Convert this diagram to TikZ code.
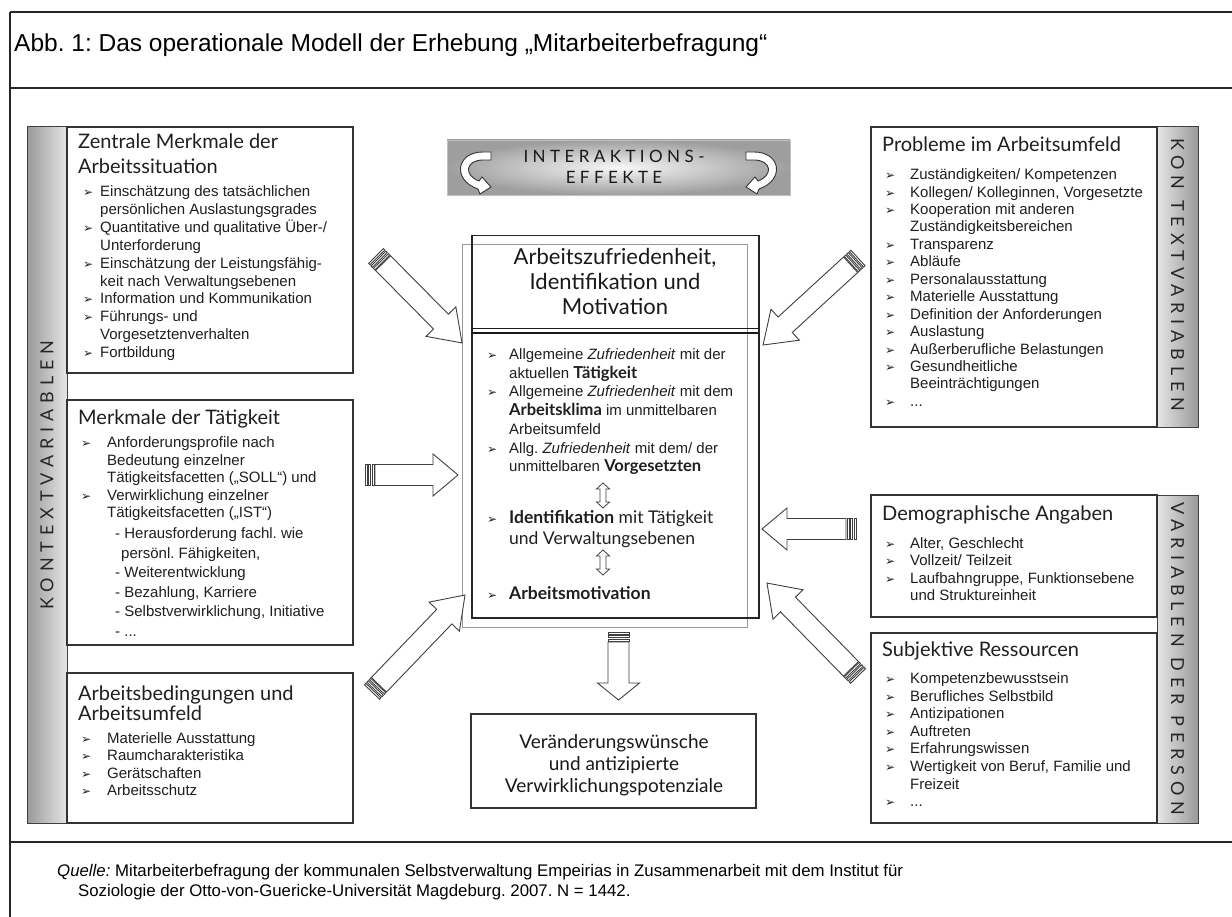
\documentclass[tikz,border=0pt]{standalone}
\usepackage{fontspec}
\setmainfont{Liberation Sans}
\newfontfamily\hf{Lato}
\newfontfamily\hfsp[LetterSpace=33]{Lato}
\newfontfamily\hfban[LetterSpace=26]{Lato}
\newfontfamily\dv{DejaVu Sans}
\frenchspacing
\newcommand\bul{{\dv\fontsize{12}{12}\selectfont ➢}}
\newcommand\bi[1]{\makebox[#1pt][l]{\bul}}
\newcommand\ci[1]{\hspace*{#1pt}}
\newcommand\cbold[1]{{\hf\bfseries\fontsize{16.5}{16.5}\selectfont #1}}
% block arrow: tail x, tail y, rotation, length, head length
\newcommand\blockarrow[5]{%
\begin{scope}[shift={(#1,#2)}, rotate=#3]
\draw[barrow] (10,-10.5) -- ({#4-#5},-10.5) -- ({#4-#5},-21) -- (#4,0) -- ({#4-#5},21) -- ({#4-#5},10.5) -- (10,10.5) -- cycle;
\draw[barrow] (0,-10.5) rectangle (2,10.5);
\draw[barrow] (3.5,-10.5) rectangle (5.5,10.5);
\draw[barrow] (7,-10.5) rectangle (9,10.5);
\end{scope}}
\tikzset{
 frame/.style={draw=black!85, line width=1.6pt},
 box/.style={draw=black!80, line width=1.1pt, fill=white, inner sep=0pt, outer sep=0pt, anchor=north west},
 hdr/.style={font=\hf\fontsize{20}{25}\selectfont, align=left, anchor=base west, inner sep=0pt, text=black!88},
 lst/.style={align=left, anchor=base west, inner sep=0pt, text=black!88},
 side/.style={font=\hfsp\fontsize{18}{18}\selectfont, inner sep=0pt, text=black!85},
 sidebar/.style={draw=black!75, line width=1pt},
 barrow/.style={draw=black!75, line width=0.9pt, fill=white, line join=miter},
 carrow/.style={draw=black!80, line width=0.9pt, fill=white},
}
\begin{document}
\begin{tikzpicture}[x=1pt,y=-1pt]
\useasboundingbox (0,0) rectangle (1232,917);
\fill[white] (0,0) rectangle (1232,917);
% frame
\draw[frame] (10,12) -- (1232,12);
\draw[frame] (10,12) -- (10,917);
\draw[frame] (10,88) -- (1232,88);
\draw[frame, line width=2.4pt] (10,842) -- (1232,842);
\node[font=\fontsize{24.5}{26}\selectfont, anchor=base west, inner sep=0pt] (title) at (14,52) {Abb. 1: Das operationale Modell der Erhebung „Mitarbeiterbefragung“};
\node[font=\fontsize{16.8}{20}\selectfont, anchor=base west, inner sep=0pt, align=left] (src) at (57,896) {\textit{Quelle:} Mitarbeiterbefragung der kommunalen Selbstverwaltung Empeirias in Zusammenarbeit mit dem Institut für\\ \ci{21}Soziologie der Otto-von-Guericke-Universität Magdeburg. 2007. N = 1442.};

% left sidebar
\shade[left color=black!40, right color=black!10] (27,127) rectangle (67,823);
\draw[sidebar] (27,127) rectangle (67,823);
\node[side, rotate=90] (kvl) at (47,475) {KONTEXTVARIABLEN};

% left boxes
\node[box, minimum width=286pt, minimum height=246pt] (b1) at (67,127) {};
\node[box, minimum width=286pt, minimum height=245pt] (b2) at (67,400) {};
\node[box, minimum width=286pt, minimum height=150pt] (b3) at (67,673) {};

\node[hdr] (h1) at (78,174) {Zentrale Merkmale der\\Arbeitssituation};
\node[lst, font=\fontsize{15}{17.9}\selectfont] (l1) at (83,357.6) {\bi{17}Einschätzung des tatsächlichen\\\ci{17}persönlichen Auslastungsgrades\\\bi{17}Quantitative und qualitative Über-/\\\ci{17}Unterforderung\\\bi{17}Einschätzung der Leistungsfähig-\\\ci{17}keit nach Verwaltungsebenen\\\bi{17}Information und Kommunikation\\\bi{17}Führungs- und\\\ci{17}Vorgesetztenverhalten\\\bi{17}Fortbildung};

\node[hdr] (h2) at (78,424) {Merkmale der Tätigkeit};
\node[lst, font=\fontsize{15}{17.5}\selectfont] (l2) at (81,517.5) {\bi{26}Anforderungsprofile nach\\\ci{26}Bedeutung einzelner\\\ci{26}Tätigkeitsfacetten („SOLL“) und\\\bi{26}Verwirklichung einzelner\\\ci{26}Tätigkeitsfacetten („IST“)};
\node[lst, font=\fontsize{15}{19.5}\selectfont] (l2b) at (115,636) {- Herausforderung fachl. wie\\\ci{6}persönl. Fähigkeiten,\\- Weiterentwicklung\\- Bezahlung, Karriere\\- Selbstverwirklichung, Initiative\\- ...};

\node[hdr, font=\hf\fontsize{20}{20.7}\selectfont] (h3) at (78,720.7) {Arbeitsbedingungen und\\Arbeitsumfeld};
\node[lst, font=\fontsize{15}{17.3}\selectfont] (l3) at (81,795.4) {\bi{26}Materielle Ausstattung\\\bi{26}Raumcharakteristika\\\bi{26}Gerätschaften\\\bi{26}Arbeitsschutz};

% right sidebars
\shade[left color=black!10, right color=black!40] (1157,127) rectangle (1198,427);
\draw[sidebar] (1157,127) rectangle (1198,427);
\shade[left color=black!10, right color=black!40] (1157,495) rectangle (1198,823);
\draw[sidebar] (1157,495) rectangle (1198,823);
\node[side, rotate=-90] (kvr) at (1177.5,275) {KON TEXTVARIABLEN};
\node[side, rotate=-90] (vdp) at (1177.5,659) {VARIABLEN DER PERSON};

% right boxes
\node[box, minimum width=286pt, minimum height=300pt] (rb1) at (871,127) {};
\node[box, minimum width=286pt, minimum height=122pt] (rb2) at (871,495) {};
\node[box, minimum width=286pt, minimum height=190pt] (rb3) at (871,633) {};

\node[hdr] (rh1) at (882,152) {Probleme im Arbeitsumfeld};
\node[lst, font=\fontsize{15}{17.45}\selectfont] (rl1) at (885,406.4) {\bi{25}Zuständigkeiten/ Kompetenzen\\\bi{25}Kollegen/ Kolleginnen, Vorgesetzte\\\bi{25}Kooperation mit anderen\\\ci{25}Zuständigkeitsbereichen\\\bi{25}Transparenz\\\bi{25}Abläufe\\\bi{25}Personalausstattung\\\bi{25}Materielle Ausstattung\\\bi{25}Definition der Anforderungen\\\bi{25}Auslastung\\\bi{25}Außerberufliche Belastungen\\\bi{25}Gesundheitliche\\\ci{25}Beeinträchtigungen\\\bi{25}...};

\node[hdr] (rh2) at (882,520) {Demographische Angaben};
\node[lst, font=\fontsize{15}{17.4}\selectfont] (rl2) at (885,600.7) {\bi{25}Alter, Geschlecht\\\bi{25}Vollzeit/ Teilzeit\\\bi{25}Laufbahngruppe, Funktionsebene\\\ci{25}und Struktureinheit};

\node[hdr] (rh3) at (882,656) {Subjektive Ressourcen};
\node[lst, font=\fontsize{15}{17.6}\selectfont] (rl3) at (885,806.7) {\bi{25}Kompetenzbewusstsein\\\bi{25}Berufliches Selbstbild\\\bi{25}Antizipationen\\\bi{25}Auftreten\\\bi{25}Erfahrungswissen\\\bi{25}Wertigkeit von Beruf, Familie und\\\ci{25}Freizeit\\\bi{25}...};

% banner
\shade[inner color=black!3, outer color=black!38] (447,140) rectangle (790,195);
\draw[black!25, line width=0.6pt] (447,140) rectangle (790,195);
\node[font=\hfban\fontsize{17}{21}\selectfont, align=center, anchor=base, inner sep=0pt, text=black!90] (ie) at (614,184) {INTERAKTIONS-\\EFFEKTE};
\draw[carrow] (491,152) -- (483,152) .. controls (456,152) and (452,180) .. (478,189) -- (480,194) -- (491,187) -- (482,177) -- (479,181) .. controls (463,175) and (466,160) .. (483,160) -- (491,160) -- cycle;
\begin{scope}[shift={(1237,0)}, xscale=-1]
\draw[carrow] (491,152) -- (483,152) .. controls (456,152) and (452,180) .. (478,189) -- (480,194) -- (491,187) -- (482,177) -- (479,181) .. controls (463,175) and (466,160) .. (483,160) -- (491,160) -- cycle;
\end{scope}

% central box
\draw[black!40, line width=1pt] (462,245) rectangle (747,627);
\node[draw=black!85, line width=1.5pt, anchor=north west, minimum width=287pt, minimum height=382pt, inner sep=0pt] (cb) at (471,235) {};
\draw[black!90, line width=1.2pt] (471,328.5) -- (758,328.5);
\draw[black!90, line width=2.6pt] (471,333) -- (758,333);
\node[font=\hf\fontsize{22}{25}\selectfont, align=center, anchor=base, inner sep=0pt, text=black!90] (ch) at (615,315) {Arbeitszufriedenheit,\\Identifikation und\\Motivation};
\node[lst, font=\fontsize{15}{18.7}\selectfont] (cl) at (487,471.7) {\bi{22}Allgemeine \textit{Zufriedenheit} mit der\\\ci{22}aktuellen \cbold{Tätigkeit}\\\bi{22}Allgemeine \textit{Zufriedenheit} mit dem\\\ci{22}\cbold{Arbeitsklima} im unmittelbaren\\\ci{22}Arbeitsumfeld\\\bi{22}Allg. \textit{Zufriedenheit} mit dem/ der\\\ci{22}unmittelbaren \cbold{Vorgesetzten}};
\node[lst, font=\hf\fontsize{17.5}{21}\selectfont] (cid) at (487,544) {\bi{22}{\bfseries Identifikation} mit Tätigkeit\\\ci{22}und Verwaltungsebenen};
\node[lst, font=\hf\fontsize{17.5}{21}\selectfont] (cam) at (487,599) {\bi{22}{\bfseries Arbeitsmotivation}};
\draw[barrow, line width=0.8pt] (603,483) -- (609.5,489) -- (606,489) -- (606,502) -- (609.5,502) -- (603,508) -- (596.5,502) -- (600,502) -- (600,489) -- (596.5,489) -- cycle;
\draw[barrow, line width=0.8pt] (603,550) -- (609.5,556) -- (606,556) -- (606,569) -- (609.5,569) -- (603,575) -- (596.5,569) -- (600,569) -- (600,556) -- (596.5,556) -- cycle;

% bottom box
\node[box, minimum width=285pt, minimum height=94pt] (vb) at (471,714) {};
\node[font=\hf\fontsize{19}{22}\selectfont, align=center, anchor=base, inner sep=0pt, text=black!90] (vt) at (614,792) {Veränderungswünsche\\und antizipierte\\Verwirklichungspotenziale};

% block arrows
\blockarrow{376}{256}{-45.3}{122.3}{30}
\blockarrow{365}{475}{0}{93}{25}
\blockarrow{372}{692}{46.2}{134.4}{30}
\blockarrow{858}{258}{-137.5}{128.8}{30}
\blockarrow{856}{529}{180}{94}{25}
\blockarrow{858}{676}{134.4}{130.1}{30}
\blockarrow{618.5}{632}{-90}{68}{17}
\end{tikzpicture}
\end{document}
